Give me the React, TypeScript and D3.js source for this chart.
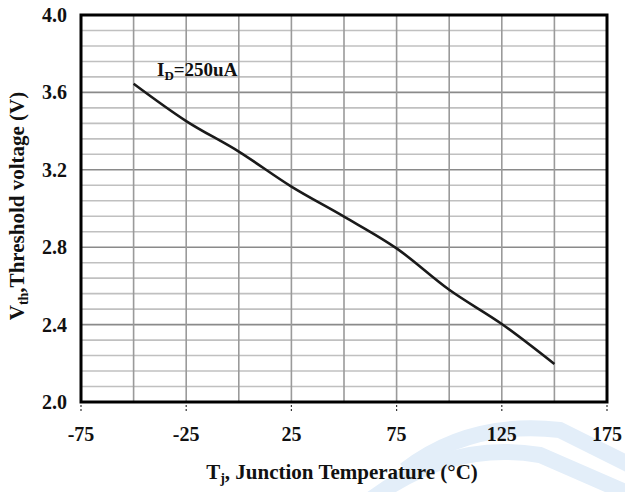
import React from "react";
import * as d3 from "d3";

// Vth vs junction temperature, ID = 250uA
const temps = [-50, -25, 0, 25, 50, 75, 100, 125, 150];
const vth = [3.645, 3.452, 3.294, 3.113, 2.958, 2.794, 2.58, 2.403, 2.196];
const xTicks = [-75, -25, 25, 75, 125, 175];
const yTicks = [2.0, 2.4, 2.8, 3.2, 3.6, 4.0];

const W = 625, H = 492;
const m = { left: 81, right: 607, top: 15, bottom: 402 };
const font = "'Liberation Serif', 'Times New Roman', serif";

export default function App() {
  const x = d3.scaleLinear().domain([-75, 175]).range([m.left, m.right]);
  const y = d3.scaleLinear().domain([2.0, 4.0]).range([m.bottom, m.top]);

  const vGrid = d3.range(-50, 175, 25);
  const hMinor = d3.range(0, 26).map(i => 2.0 + i * 0.08).filter(v => v > 2.001 && v < 3.999);

  const line = d3.line<number>()
    .x((_, i) => x(temps[i]))
    .y(d => y(d))
    .curve(d3.curveMonotoneX);

  return (
    <svg width={W} height={H} style={{ position: "absolute", left: 0, top: 0 }}>
      <rect width={W} height={H} fill="#fff" />
      {/* watermark bands */}
      <path d="M 405 470 Q 470 420 560 430 L 640 470" fill="none" stroke="#e3eef9" strokeWidth={16} />
      <path d="M 370 500 Q 450 440 540 455 L 625 492" fill="none" stroke="#e3eef9" strokeWidth={16} />

      {hMinor.map((v, i) => {
        const major = Math.abs((v - 2) / 0.4 - Math.round((v - 2) / 0.4)) < 0.01;
        return (
          <line key={"h" + i} x1={m.left} x2={m.right} y1={y(v)} y2={y(v)}
            stroke={major ? "#8a8a8a" : "#c0c0c0"} strokeWidth={major ? 1.6 : 1.6} />
        );
      })}
      {vGrid.map(t => (
        <line key={"v" + t} x1={x(t)} x2={x(t)} y1={m.top} y2={m.bottom}
          stroke="#9a9a9a" strokeWidth={1.6} />
      ))}

      <path d={line(vth) || ""} fill="none" stroke="#1a1a1a" strokeWidth={2.6} />

      <rect x={m.left} y={m.top} width={m.right - m.left} height={m.bottom - m.top}
        fill="none" stroke="#000" strokeWidth={3} />

      {xTicks.map(t => (
        <line key={"xt" + t} x1={x(t)} x2={x(t)} y1={m.bottom + 3} y2={m.bottom + 10}
          stroke="#333" strokeWidth={1.2} strokeDasharray="2,2" />
      ))}

      <g fontFamily={font} fontWeight="bold" fill="#111">
        {xTicks.map(t => (
          <text key={"xl" + t} x={x(t)} y={441} fontSize={20} textAnchor="middle">{t}</text>
        ))}
        {yTicks.map(v => (
          <text key={"yl" + v} x={67} y={y(v) + 7} fontSize={20} textAnchor="end">{v.toFixed(1)}</text>
        ))}
        <text x={157} y={76} fontSize={19}>
          I<tspan fontSize={13} dy={4}>D</tspan><tspan dy={-4}>=250uA</tspan>
        </text>
        <text x={342} y={479} fontSize={21} textAnchor="middle">
          T<tspan fontSize={14} dy={4}>j</tspan><tspan dy={-4}>, Junction Temperature (°C)</tspan>
        </text>
        <text transform={`translate(24,206) rotate(-90)`} fontSize={21} textAnchor="middle">
          V<tspan fontSize={14} dy={4}>th</tspan><tspan dy={-4}>,Threshold voltage (V)</tspan>
        </text>
      </g>
    </svg>
  );
}
